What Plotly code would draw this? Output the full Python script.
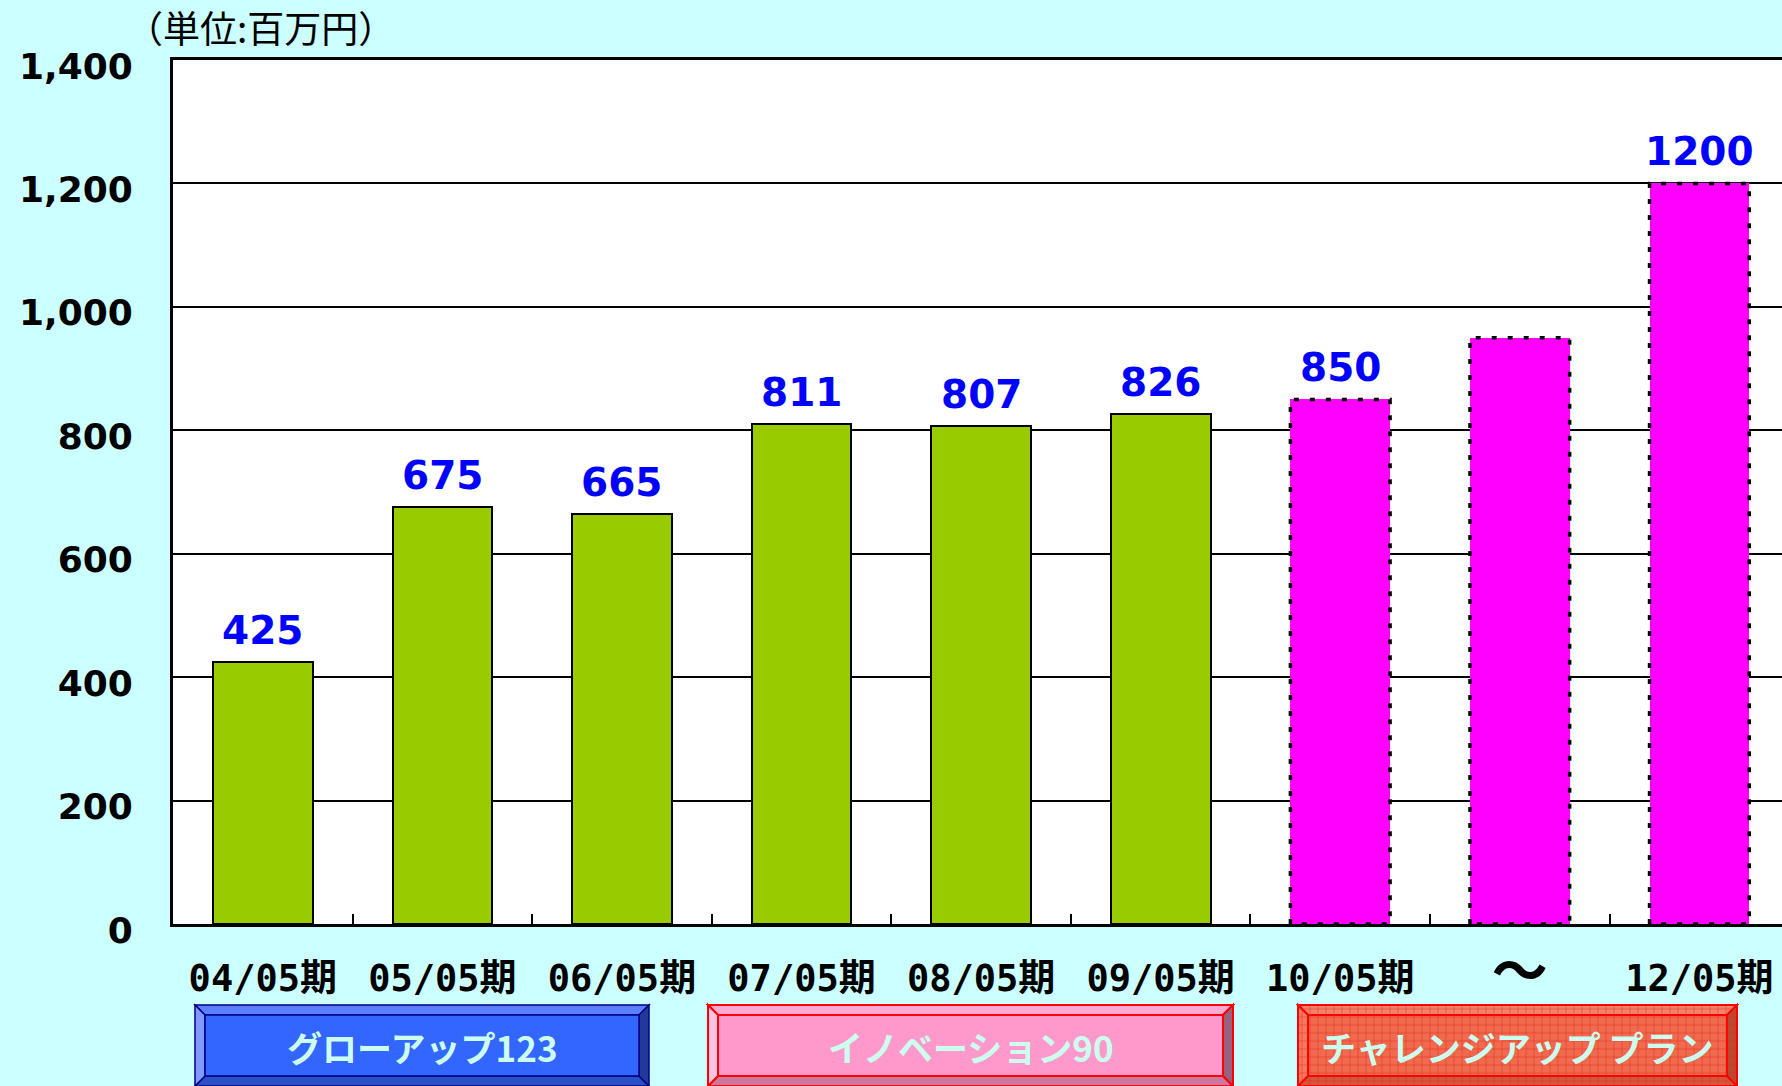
import plotly.graph_objects as go

# ---------------- data ----------------
categories = ["04/05期", "05/05期", "06/05期", "07/05期", "08/05期",
              "09/05期", "10/05期", "〜", "12/05期"]
values = [425, 675, 665, 811, 807, 826, 850, 950, 1200]
value_labels = ["425", "675", "665", "811", "807", "826", "850", "", "1200"]
is_plan = [False, False, False, False, False, False, True, True, True]
y_ticks = [0, 200, 400, 600, 800, 1000, 1200, 1400]
plan_names = ["グローアップ123", "イノベーション90", "チャレンジアップ プラン"]
unit_label = "（単位:百万円）"

# ---------------- layout geometry (pixels) ----------------
W, H = 1782, 1086
L, T, B, R = 173, 60, 162, 0
PW, PH = W - L - R, H - T - B
BAR_W = 0.555
X_RANGE = [-0.5, 8.46]

def px(xp):
    return (xp - L) / PW

def py(yp):
    return (T + PH - yp) / PH

idx = list(range(len(categories)))
act_x = [i for i in idx if not is_plan[i]]
plan_x = [i for i in idx if is_plan[i]]

fig = go.Figure()
fig.add_trace(go.Bar(
    x=act_x, y=[values[i] for i in act_x], width=BAR_W,
    marker=dict(color="#99CC00", line=dict(color="black", width=2)),
    showlegend=False, hoverinfo="skip"))
fig.add_trace(go.Bar(
    x=plan_x, y=[values[i] for i in plan_x], width=BAR_W,
    marker=dict(color="#FF00FF", line=dict(width=0)),
    showlegend=False, hoverinfo="skip"))

# dotted outlines of plan bars
ox, oy = [], []
for i in plan_x:
    a, b = i - BAR_W / 2, i + BAR_W / 2
    ox += [a, a, b, b, a, None]
    oy += [0, values[i], values[i], 0, 0, None]
fig.add_trace(go.Scatter(
    x=ox, y=oy, mode="lines",
    line=dict(color="black", width=3.5, dash="5px,11px"),
    showlegend=False, hoverinfo="skip", cliponaxis=False))

# value labels
for i in idx:
    if value_labels[i]:
        fig.add_annotation(
            x=i, y=values[i], text=value_labels[i], showarrow=False,
            xanchor="center", yanchor="bottom", yshift=7,
            font=dict(family="DejaVu Sans", size=39, color="#0000FF", weight="bold"))

# unit label
fig.add_annotation(
    x=px(260), y=py(27), xref="paper", yref="paper", text=unit_label,
    showarrow=False, xanchor="center", yanchor="middle",
    font=dict(family="Noto Sans CJK JP", size=37, color="black"))

# ---------------- bevelled plan boxes ----------------
shapes = []

def poly(pts, fill, line, lw):
    d = "M " + " L ".join(f"{px(a):.5f},{py(b):.5f}" for a, b in pts) + " Z"
    shapes.append(dict(type="path", xref="paper", yref="paper", path=d,
                       fillcolor=fill, line=dict(color=line, width=lw), layer="above"))

def bevel_box(x0, x1, y0, y1, bv, main, top, left, right, bottom, border, lw):
    poly([(x0, y0), (x1, y0), (x1 - bv, y0 + bv), (x0 + bv, y0 + bv)], top, border, lw)
    poly([(x0, y1), (x1, y1), (x1 - bv, y1 - bv), (x0 + bv, y1 - bv)], bottom, border, lw)
    poly([(x0, y0), (x0 + bv, y0 + bv), (x0 + bv, y1 - bv), (x0, y1)], left, border, lw)
    poly([(x1, y0), (x1 - bv, y0 + bv), (x1 - bv, y1 - bv), (x1, y1)], right, border, lw)
    poly([(x0 + bv, y0 + bv), (x1 - bv, y0 + bv), (x1 - bv, y1 - bv), (x0 + bv, y1 - bv)],
         main, border, lw)

BY0, BY1, BV = 1005, 1086, 10
boxes = [
    (195, 649, "#3366FF", "#5C80FF", "#8099FF", "#22399A", "#2A50C8", "#000080", 1.5),
    (708, 1233, "#FF99CC", "#FFAAD4", "#FFC4E0", "#996080", "#CC77A0", "#FF0000", 2),
    (1298, 1737, "#F06A50", "#F4826C", "#F47A62", "#B84A32", "#D0583C", "#FF0000", 2),
]
for (x0, x1, main, top, left, right, bottom, border, lw) in boxes:
    bevel_box(x0, x1, BY0, BY1, BV, main, top, left, right, bottom, border, lw)

# grid texture on third box
gx0, gx1 = 1298, 1737
xx = gx0 + 4
while xx < gx1:
    shapes.append(dict(type="line", xref="paper", yref="paper",
                       x0=px(xx), x1=px(xx), y0=py(BY0 + 1), y1=py(BY1 - 1),
                       line=dict(color="rgba(230,40,20,0.45)", width=1), layer="above"))
    xx += 8
yy = BY0 + 4
while yy < BY1:
    shapes.append(dict(type="line", xref="paper", yref="paper",
                       x0=px(gx0 + 1), x1=px(gx1 - 1), y0=py(yy), y1=py(yy),
                       line=dict(color="rgba(230,40,20,0.45)", width=1), layer="above"))
    yy += 8

for (x0, x1, *_), name in zip(boxes, plan_names):
    fig.add_annotation(
        x=px((x0 + x1) / 2), y=py(1046), xref="paper", yref="paper", text=name,
        showarrow=False, xanchor="center", yanchor="middle",
        font=dict(family="Noto Sans CJK JP", size=35, color="#CCFFEE", weight="bold"))

tick_text = [f"<span style='font-size:56px'><b>{c}</b></span>" if c == "〜" else c
             for c in categories]

fig.update_layout(
    width=W, height=H,
    margin=dict(l=L, r=R, t=T, b=B, pad=0),
    paper_bgcolor="#CCFFFF", plot_bgcolor="white",
    shapes=shapes, bargap=0, showlegend=False,
    xaxis=dict(
        range=X_RANGE, tickmode="array", tickvals=idx, ticktext=tick_text,
        ticks="", showgrid=False, zeroline=False,
        showline=True, linecolor="black", linewidth=2.5, mirror=True,
        ticklabelstandoff=20,
        tickfont=dict(family="DejaVu Sans Mono, Noto Sans CJK JP", size=37,
                      color="black", weight="bold"),
        minor=dict(tickvals=[i + 0.5 for i in idx[:-1]], ticks="inside",
                   ticklen=10, tickwidth=2, tickcolor="black", showgrid=False),
    ),
    yaxis=dict(
        range=[0, 1400], tickmode="array", tickvals=y_ticks, tickformat=",",
        ticks="", showgrid=True, gridcolor="black", gridwidth=2,
        zeroline=False, showline=True, linecolor="black", linewidth=3,
        ticklabelstandoff=30, ticklabelshift=6,
        tickfont=dict(family="DejaVu Sans", size=36, color="black", weight="bold"),
    ),
)

fig.write_html("out.html", config={"displayModeBar": False},
               post_script="document.body.style.margin='0';document.body.style.overflow='hidden';")
